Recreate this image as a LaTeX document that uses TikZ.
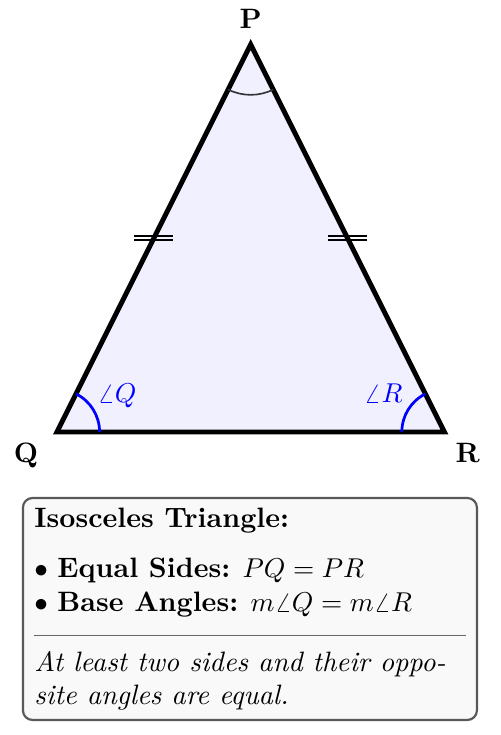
\documentclass[tikz,border=0pt]{standalone}
\newcommand{\txtsize}{\fontsize{10.3pt}{12.4pt}\selectfont}
\begin{document}
\begin{tikzpicture}[
  every node/.style={font=\txtsize},
  tri/.style={draw=black, line width=1.8pt, fill=blue!6, line join=miter},
  vlabel/.style={font=\txtsize\bfseries, inner sep=0pt, anchor=base},
  anglabel/.style={text=blue, inner sep=0pt},
  angarc/.style={draw=blue, line width=1pt},
  toparc/.style={draw=black!80, line width=0.6pt},
  tickmark/.style={draw=black, line width=0.7pt},
  infobox/.style={draw=black!65, line width=0.8pt, fill=gray!5, rounded corners=3.5pt},
  boxtext/.style={inner sep=0pt, anchor=base west},
  seprule/.style={draw=black!60, line width=0.5pt}
]
\useasboundingbox (-0.735,-3.910) rectangle (5.729,5.574);

\coordinate (Q) at (0,0);
\coordinate (R) at (5,0);
\coordinate (P) at (2.5,5);

\path[tri] (Q) -- (R) -- (P) -- cycle;

% angle arcs
\draw[angarc] ([shift={(0:0.55)}]Q) arc[start angle=0, end angle=63.435, radius=0.55];
\draw[angarc] ([shift={(180:0.55)}]R) arc[start angle=180, end angle=116.565, radius=0.55];
\draw[toparc] ([shift={(243.435:0.65)}]P) arc[start angle=243.435, end angle=296.565, radius=0.65];

% tick marks
\coordinate (mL) at (1.25,2.5);
\coordinate (mR) at (3.75,2.5);
\foreach \m in {mL,mR}{
  \draw[tickmark] ([shift={(-0.25,0.028)}]\m) -- ++(0.5,0);
  \draw[tickmark] ([shift={(-0.25,-0.028)}]\m) -- ++(0.5,0);
}

% vertex labels
\node[vlabel] (lP) at (2.5,5.2) {P};
\node[vlabel] (lQ) at (-0.40,-0.39) {Q};
\node[vlabel] (lR) at (5.30,-0.39) {R};

% angle labels
\node[anglabel, anchor=base west] (aQ) at (0.516,0.375) {$\angle Q$};
\node[anglabel, anchor=base east] (aR) at (4.465,0.375) {$\angle R$};

% info box
\path[infobox] (-0.439,-3.716) rectangle (5.419,-0.852);
\node[boxtext] (title) at (-0.297,-1.235) {\textbf{Isosceles Triangle:}};
\node[boxtext] (b1) at (-0.297,-1.875) {$\bullet$ \textbf{Equal Sides:} $PQ = PR$};
\node[boxtext] (b2) at (-0.297,-2.319) {$\bullet$ \textbf{Base Angles:} $m\angle Q = m\angle R$};
\coordinate (rl) at (-0.297,-2.628);
\coordinate (rr) at (5.277,-2.628);
\draw[seprule] (rl) -- (rr);
\node[boxtext] (i1) at (-0.297,-3.09) {\textit{At least two sides and their oppo-}};
\node[boxtext] (i2) at (-0.297,-3.51) {\textit{site angles are equal.}};
\end{tikzpicture}
\end{document}
